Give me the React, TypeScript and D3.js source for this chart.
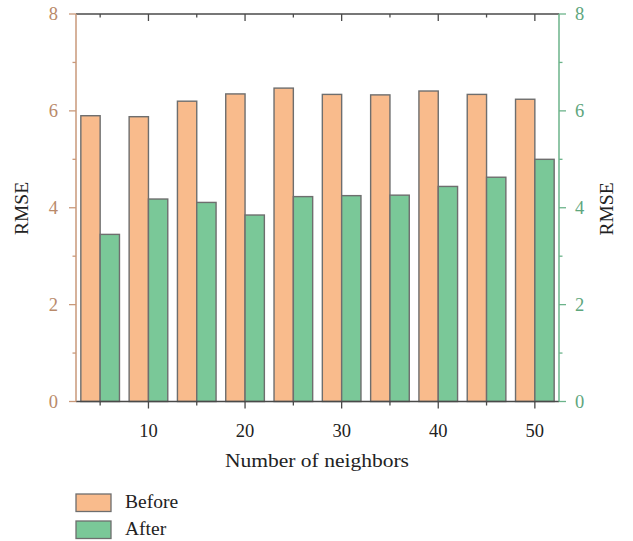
import React from "react";
import * as d3 from "d3";

const neighbors = [5, 10, 15, 20, 25, 30, 35, 40, 45, 50];
const beforeVals = [5.9, 5.88, 6.2, 6.35, 6.47, 6.34, 6.33, 6.41, 6.34, 6.24];
const afterVals = [3.45, 4.18, 4.11, 3.85, 4.23, 4.25, 4.26, 4.44, 4.63, 5.0];
const yTicks = [0, 2, 4, 6, 8];
const yMinor = [1, 3, 5, 7];
const xTicks = [10, 20, 30, 40, 50];
const xMinor = [5, 15, 25, 35, 45];
const seriesNames = ["Before", "After"];

const ORANGE = "#f9bb8c";
const GREEN = "#7ac898";
const BAR_STROKE = "#6e6e6e";
const LEFT_COL = "#c9997a";
const LEFT_TXT = "#b98a6a";
const RIGHT_COL = "#6bb38a";
const RIGHT_TXT = "#5ea67d";
const FONT = "'Liberation Serif', 'DejaVu Serif', serif";

export default function App() {
  const left = 76, right = 559, top = 14, bottom = 401.5;
  const x = d3.scaleLinear().domain([2.5, 52.5]).range([left, right]);
  const y = d3.scaleLinear().domain([0, 8]).range([bottom, top]);
  const half = 2;

  return (
    <svg width={633} height={541} style={{ position: "absolute", left: 0, top: 0 }} fontFamily={FONT}>
      <rect width={633} height={541} fill="#fff" />
      {neighbors.map((n, i) => (
        <g key={n}>
          <rect x={x(n - half)} y={y(beforeVals[i])} width={x(n) - x(n - half)} height={y(0) - y(beforeVals[i])}
            fill={ORANGE} stroke={BAR_STROKE} strokeWidth={1.4} />
          <rect x={x(n)} y={y(afterVals[i])} width={x(n + half) - x(n)} height={y(0) - y(afterVals[i])}
            fill={GREEN} stroke={BAR_STROKE} strokeWidth={1.4} />
        </g>
      ))}
      {/* top axis */}
      <line x1={left} x2={right} y1={top} y2={top} stroke="#4a4a4a" strokeWidth={1.5} />
      {xTicks.map(t => <line key={"tt" + t} x1={x(t)} x2={x(t)} y1={top} y2={top + 7} stroke="#4a4a4a" strokeWidth={1.3} />)}
      {xMinor.map(t => <line key={"tm" + t} x1={x(t)} x2={x(t)} y1={top} y2={top + 3.5} stroke="#4a4a4a" strokeWidth={1.3} />)}
      {/* bottom axis */}
      <line x1={left} x2={right} y1={bottom} y2={bottom} stroke="#4a4a4a" strokeWidth={1.5} />
      {xTicks.map(t => <line key={"bt" + t} x1={x(t)} x2={x(t)} y1={bottom} y2={bottom + 7} stroke="#4a4a4a" strokeWidth={1.3} />)}
      {xMinor.map(t => <line key={"bm" + t} x1={x(t)} x2={x(t)} y1={bottom} y2={bottom + 4} stroke="#4a4a4a" strokeWidth={1.3} />)}
      {xTicks.map(t => (
        <text key={"bl" + t} x={x(t)} y={437} textAnchor="middle" fontSize={18.5} fill="#222">{t}</text>
      ))}
      <text x={317} y={467} textAnchor="middle" fontSize={19.5} textLength={184} lengthAdjust="spacingAndGlyphs" fill="#222">Number of neighbors</text>
      {/* left axis */}
      <line x1={left} x2={left} y1={top} y2={bottom} stroke={LEFT_COL} strokeWidth={1.5} />
      {yTicks.map(t => <line key={"lt" + t} x1={left - 7} x2={left} y1={y(t)} y2={y(t)} stroke={LEFT_COL} strokeWidth={1.3} />)}
      {yMinor.map(t => <line key={"lm" + t} x1={left - 3.5} x2={left} y1={y(t)} y2={y(t)} stroke={LEFT_COL} strokeWidth={1.3} />)}
      {yTicks.map(t => (
        <text key={"ll" + t} x={58} y={y(t) + 6.3} textAnchor="end" fontSize={18.5} fill={LEFT_TXT}>{t}</text>
      ))}
      <text transform={`translate(28.3,208.5) rotate(-90)`} textAnchor="middle" fontSize={19.5} fill="#222">RMSE</text>
      {/* right axis */}
      <line x1={right} x2={right} y1={top} y2={bottom} stroke={RIGHT_COL} strokeWidth={1.5} />
      {yTicks.map(t => <line key={"rt" + t} x1={right} x2={right + 7} y1={y(t)} y2={y(t)} stroke={RIGHT_COL} strokeWidth={1.3} />)}
      {yMinor.map(t => <line key={"rm" + t} x1={right} x2={right + 3.5} y1={y(t)} y2={y(t)} stroke={RIGHT_COL} strokeWidth={1.3} />)}
      {yTicks.map(t => (
        <text key={"rl" + t} x={575} y={y(t) + 6.3} textAnchor="start" fontSize={18.5} fill={RIGHT_TXT}>{t}</text>
      ))}
      <text transform={`translate(612.7,209) rotate(-90)`} textAnchor="middle" fontSize={19.5} fill="#222">RMSE</text>
      {/* legend */}
      {seriesNames.map((s, i) => (
        <g key={s} transform={`translate(76,${494 + i * 27})`}>
          <rect x={0} y={0} width={35} height={17.5} fill={i === 0 ? ORANGE : GREEN} stroke={BAR_STROKE} strokeWidth={1.3} />
          <text x={49} y={14} fontSize={19.5} fill="#222">{s}</text>
        </g>
      ))}
    </svg>
  );
}
